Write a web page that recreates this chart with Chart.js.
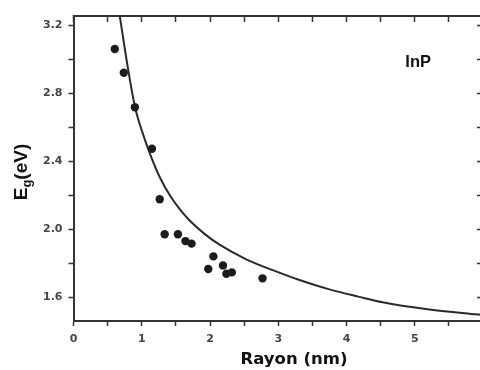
<!DOCTYPE html>
<html>
<head>
<meta charset="utf-8">
<script src="https://cdn.jsdelivr.net/npm/chart.js@4/dist/chart.umd.min.js"></script>
<style>
  html, body { margin: 0; padding: 0; background: #fff; overflow: hidden; }
  #wrap { position: relative; width: 490px; height: 370px; }
</style>
</head>
<body>
<div id="wrap"><canvas id="myChart"></canvas></div>
<script>
// measured points (radius in nm, gap in eV)
var pointR = [0.605, 0.737, 0.90, 1.15, 1.263, 1.336, 1.53, 1.64, 1.73, 1.975, 2.05, 2.19, 2.24, 2.32, 2.77];
var pointE = [3.059, 2.919, 2.716, 2.472, 2.175, 1.969, 1.969, 1.929, 1.914, 1.765, 1.839, 1.786, 1.737, 1.745, 1.71];

// theory curve
var curveR = [0.678, 0.80, 0.902, 1.00, 1.142, 1.27, 1.409, 1.55, 1.702, 1.924, 2.14, 2.531, 2.92, 3.31, 3.749, 4.187, 4.528, 5.162, 5.893, 6.0];
var curveE = [3.253, 2.94, 2.716, 2.58, 2.42, 2.30, 2.20, 2.12, 2.05, 1.97, 1.908, 1.822, 1.758, 1.70, 1.645, 1.601, 1.569, 1.529, 1.498, 1.494];

var xTickLabels = [0, 1, 2, 3, 4, 5];
var yTickLabels = [1.6, 2.0, 2.4, 2.8, 3.2];

var axisColor = "#333";

function toXY(xs, ys) {
  return xs.map(function (x, i) { return {x: x, y: ys[i]}; });
}

var tickFont = {family: "DejaVu Sans", size: 11, weight: "bold"};

var textPlugin = {
  id: "texts",
  beforeDraw: function (chart) {
    var ctx = chart.ctx;
    ctx.save();
    ctx.fillStyle = "#fff";
    ctx.fillRect(0, 0, chart.width, chart.height);
    ctx.restore();
  },
  afterDraw: function (chart) {
    var ctx = chart.ctx;
    ctx.save();
    ctx.fillStyle = "#111";

    // x title
    ctx.font = "bold 16.5px 'DejaVu Sans'";
    ctx.textAlign = "center";
    ctx.textBaseline = "middle";
    ctx.fillText("Rayon (nm)", 294, 360);

    // y title with subscript g
    ctx.translate(27, 172);
    ctx.rotate(-Math.PI / 2);
    ctx.textAlign = "left";
    ctx.textBaseline = "alphabetic";
    var big = "bold 19px 'Liberation Sans'";
    var small = "bold 13px 'Liberation Sans'";
    ctx.font = big;
    var wE = ctx.measureText("E").width;
    var wRest = ctx.measureText("(eV)").width;
    ctx.font = small;
    var wg = ctx.measureText("g").width;
    var x0 = -(wE + wg + wRest) / 2;
    ctx.font = big;
    ctx.fillText("E", x0, 0);
    ctx.font = small;
    ctx.fillText("g", x0 + wE, 4);
    ctx.font = big;
    ctx.fillText("(eV)", x0 + wE + wg, 0);
    ctx.restore();

    // material label
    ctx.save();
    ctx.fillStyle = "#111";
    ctx.font = "bold 16.5px 'Liberation Sans'";
    ctx.textAlign = "center";
    ctx.textBaseline = "middle";
    ctx.fillText("InP", chart.scales.x.getPixelForValue(5.05), chart.scales.y.getPixelForValue(2.98));
    ctx.restore();
  }
};

function isMajor(v, list) {
  return list.some(function (t) { return Math.abs(t - v) < 1e-6; });
}

new Chart("myChart", {
  type: "scatter",
  data: {
    datasets: [{
      data: toXY(curveR, curveE),
      showLine: true,
      borderColor: "#2a2a2a",
      borderWidth: 2,
      pointRadius: 0,
      cubicInterpolationMode: "monotone",
      order: 2
    }, {
      data: toXY(pointR, pointE),
      backgroundColor: "#1c1c1c",
      borderWidth: 0,
      pointRadius: 4.2,
      order: 1
    }]
  },
  options: {
    responsive: true,
    maintainAspectRatio: false,
    animation: false,
    layout: {padding: 0},
    plugins: {
      legend: {display: false},
      tooltip: {enabled: false}
    },
    scales: {
      x: {
        type: "linear", position: "bottom", min: 0, max: 6,
        border: {display: true, color: axisColor, width: 2},
        grid: {drawOnChartArea: false, drawTicks: true, tickLength: 5, tickColor: axisColor, tickWidth: 1.5},
        ticks: {
          stepSize: 0.5, autoSkip: false, maxRotation: 0, padding: 7,
          color: "#444", font: tickFont,
          callback: function (v) { return isMajor(v, xTickLabels) ? String(v) : ""; }
        },
        afterFit: function (s) { s.height = 49; }
      },
      x2: {
        type: "linear", position: "top", min: 0, max: 6,
        border: {display: true, color: axisColor, width: 2},
        grid: {drawOnChartArea: false, drawTicks: true, tickLength: -6, tickColor: axisColor, tickWidth: 1.5},
        ticks: {stepSize: 0.5, autoSkip: false, display: false},
        afterFit: function (s) { s.height = 16; }
      },
      y: {
        type: "linear", position: "left", min: 1.459, max: 3.253,
        border: {display: true, color: axisColor, width: 2},
        grid: {drawOnChartArea: false, drawTicks: true, tickLength: 5, tickColor: axisColor, tickWidth: 1.5},
        ticks: {
          stepSize: 0.2, autoSkip: false, includeBounds: false, padding: 6,
          color: "#444", font: tickFont,
          callback: function (v) { return isMajor(v, yTickLabels) ? v.toFixed(1) : ""; }
        },
        afterFit: function (s) { s.width = 73.5; }
      },
      y2: {
        type: "linear", position: "right", min: 1.459, max: 3.253,
        border: {display: true, color: axisColor, width: 2},
        grid: {drawOnChartArea: false, drawTicks: true, tickLength: -6, tickColor: axisColor, tickWidth: 1.5},
        ticks: {stepSize: 0.2, autoSkip: false, includeBounds: false, display: false},
        afterFit: function (s) { s.width = 6; }
      }
    }
  },
  plugins: [textPlugin]
});
</script>
</body>
</html>
